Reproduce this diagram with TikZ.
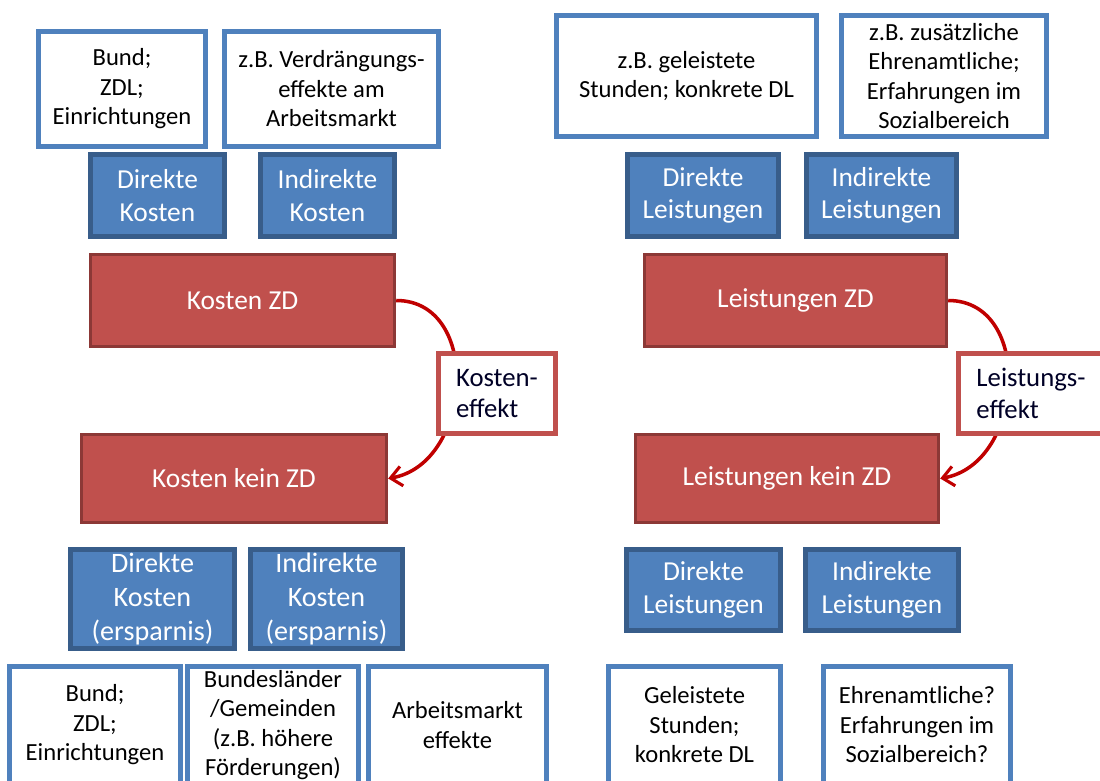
\documentclass[tikz,border=0pt]{standalone}
\usepackage{fontspec}
\setmainfont{Carlito}
\usetikzlibrary{arrows.meta}
\definecolor{boxblue}{HTML}{4F81BD}
\definecolor{blueline}{HTML}{385D8A}
\definecolor{boxred}{HTML}{C0504D}
\definecolor{redline}{HTML}{8C3836}
\definecolor{arcred}{HTML}{C00000}

\begin{document}
\begin{tikzpicture}[x=0.025cm, y=-0.025cm,
	info/.style = {draw=boxblue, line width=3.2pt, fill=white, align=center, inner sep=0pt, font=\fontsize{17.5}{21}\selectfont},
	kind/.style = {draw=blueline, line width=3pt, fill=boxblue, text=white, align=center, inner sep=0pt, font=\fontsize{19.5}{23}\selectfont},
	zd/.style = {draw=redline, line width=2.4pt, fill=boxred, text=white, inner sep=0pt, font=\fontsize{19.5}{23}\selectfont},
	effect/.style = {draw=boxred, line width=3pt, fill=white, align=left, inner sep=0pt, text=black!85!blue, font=\fontsize{19}{22.5}\selectfont},
	effectarc/.style = {->, > = {Straight Barb[length=8pt, width=14pt, line width=2.2pt]}, line width=2.5pt, color=arcred}]
	\clip (0,0) rectangle (1100,781);

	% Kosten
	\node [info, minimum width=4.175cm, minimum height=2.875cm] (kbund) at (122,89) {Bund;\\ZDL;\\Einrichtungen};
	\node [info, minimum width=5.35cm, minimum height=2.875cm] (kmarkt) at (331.5,89) {z.B. Verdrängungs-\\effekte am\\Arbeitsmarkt};
	\node [kind, minimum width=3.35cm, minimum height=2.05cm] (kdir) at (157.5,195.5) {Direkte\\Kosten};
	\node [kind, minimum width=3.35cm, minimum height=2.05cm] (kindir) at (327.5,195.5) {Indirekte\\Kosten};
	\node [zd, minimum width=7.6cm, minimum height=2.3cm] (kzd) at (242.5,300.5) {Kosten ZD};
	\node [zd, minimum width=7.625cm, minimum height=2.2cm] (kkein) at (234,478.5) {Kosten kein ZD};
	\draw [effectarc] (kzd.east) to [out=0, in=10, distance=2.15cm] (kkein.east);
	\node [effect, minimum width=2.925cm, minimum height=2cm] (keff) at (497,393.5) {Kosten-\\effekt};
	\node [kind, minimum width=4.1cm, minimum height=2.475cm, font=\fontsize{20}{24.5}\selectfont] (kdir2) at (152.5,599) {Direkte\\Kosten\\(ersparnis)};
	\node [kind, minimum width=3.8cm, minimum height=2.475cm, font=\fontsize{20}{24.5}\selectfont] (kindir2) at (326.5,599) {Indirekte\\Kosten\\(ersparnis)};
	\node [info, minimum width=4.275cm, minimum height=2.925cm] (kbund2) at (95,725) {Bund;\\ZDL;\\Einrichtungen};
	\node [info, minimum width=4.275cm, minimum height=2.925cm] (kland) at (273,725) {Bundesländer\\/Gemeinden\\(z.B. höhere\\Förderungen)};
	\node [info, minimum width=4.45cm, minimum height=2.925cm] (kmarkt2) at (457.5,725) {Arbeitsmarkt\\effekte};

	% Leistungen
	\node [info, minimum width=6.5cm, minimum height=3.025cm] (lstd) at (686.5,76) {z.B. geleistete\\Stunden; konkrete DL};
	\node [info, minimum width=5.125cm, minimum height=3.025cm] (lehren) at (944,76) {z.B. zusätzliche\\Ehrenamtliche;\\Erfahrungen im\\Sozialbereich};
	\node [kind, minimum width=3.775cm, minimum height=2.05cm] (ldir) at (703,195.5) {Direkte\\Leistungen};
	\node [kind, minimum width=3.75cm, minimum height=2.05cm] (lindir) at (881.5,195.5) {Indirekte\\Leistungen};
	\node [zd, minimum width=7.55cm, minimum height=2.3cm] (lzd) at (795.5,300.5) {Leistungen ZD};
	\node [zd, minimum width=7.575cm, minimum height=2.2cm] (lkein) at (787,478.5) {Leistungen kein ZD};
	\draw [effectarc] (lzd.east) to [out=0, in=10, distance=2.15cm] (lkein.east);
	\node [effect, minimum width=3.625cm, minimum height=2cm] (leff) at (1031,393.5) {Leistungs-\\effekt};
	\node [kind, minimum width=3.85cm, minimum height=2.025cm] (ldir2) at (703.5,590) {Direkte\\Leistungen};
	\node [kind, minimum width=3.825cm, minimum height=2.025cm] (lindir2) at (882,590) {Indirekte\\Leistungen};
	\node [info, minimum width=4.3cm, minimum height=2.925cm] (lstd2) at (694.5,725) {Geleistete\\Stunden;\\konkrete DL};
	\node [info, minimum width=4.675cm, minimum height=2.925cm] (lehren2) at (917,725) {Ehrenamtliche?\\Erfahrungen im\\Sozialbereich?};
\end{tikzpicture}
\end{document}
